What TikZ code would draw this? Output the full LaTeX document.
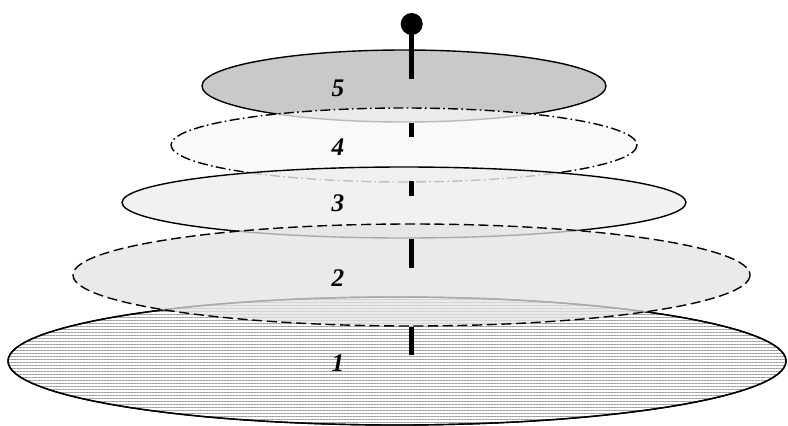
\documentclass[tikz,border=0pt]{standalone}
\usepackage{fontspec}
\setmainfont{Liberation Serif}
\usepackage{xcolor}
\usetikzlibrary{patterns.meta}
\definecolor{LayerOne}{HTML}{EBEBEB}
\definecolor{LayerOneLine}{HTML}{9E9E9E}
\definecolor{LayerTwo}{HTML}{E4E4E4}
\definecolor{LayerThree}{HTML}{EEEEEE}
\definecolor{LayerFour}{HTML}{F7F7F7}
\definecolor{LayerFive}{HTML}{C9C9C9}

\begin{document}
\begin{tikzpicture}[x=0.75pt,y=-0.75pt,
  disc/.style={draw=black,line width=1.05pt},
  num/.style={font=\fontsize{19}{19}\selectfont\bfseries\itshape},
  pole/.style={line width=3.4pt}]
\path[use as bounding box] (0,0) rectangle (788,425);
\fill[white] (0,0) rectangle (788,425);
\draw[disc,fill=LayerOne,pattern={Lines[angle=0,distance=2.25pt,line width=0.6pt]},pattern color=LayerOneLine] (397,361) ellipse [x radius=389,y radius=64];
\draw[disc] (397,361) ellipse [x radius=389,y radius=64];
\draw[disc,fill=LayerFive] (404,86) ellipse [x radius=202,y radius=36];
\draw[disc,fill=LayerFour,fill opacity=0.75,dash pattern=on 7.5pt off 2.5pt on 1.2pt off 2.5pt] (404,145) ellipse [x radius=233,y radius=37];
\draw[disc,fill=LayerThree,fill opacity=0.8] (404,202.5) ellipse [x radius=282,y radius=35.5];
\draw[disc,fill=LayerTwo,fill opacity=0.75,dash pattern=on 7.5pt off 3.5pt] (411.5,275) ellipse [x radius=338.5,y radius=51];
\node[num] (l5) at (338,88) {5};
\node[num] (l4) at (338,147) {4};
\node[num] (l3) at (338,203) {3};
\node[num] (l2) at (338,278) {2};
\node[num] (l1) at (338,363) {1};
\fill (411.7,24) circle (11);
\draw[pole] (411.7,24) -- (411.7,79);
\draw[pole] (411.7,123) -- (411.7,137);
\draw[pole] (411.7,181) -- (411.7,196);
\draw[pole] (411.7,239) -- (411.7,268);
\draw[pole] (411.7,327) -- (411.7,355);
\end{tikzpicture}
\end{document}
